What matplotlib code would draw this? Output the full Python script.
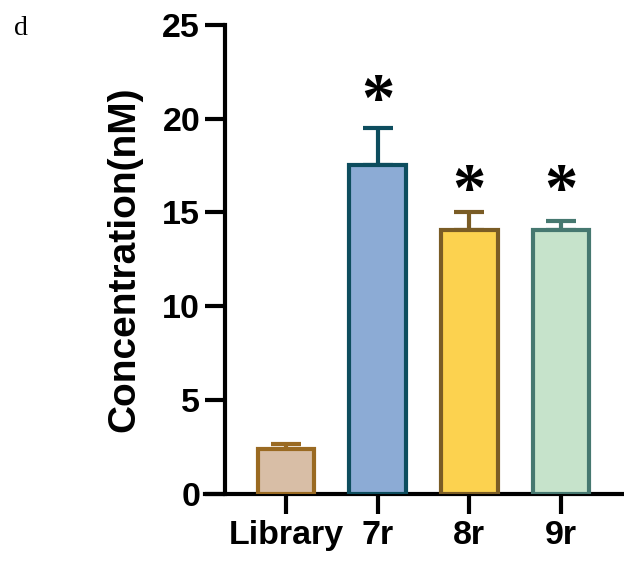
import matplotlib
matplotlib.use("Agg")
import matplotlib.pyplot as plt
import numpy as np

# values
groups = ["Library", "7r", "8r", "9r"]
means = [2.38, 17.52, 14.05, 14.05]
sds = [0.27, 1.97, 0.98, 0.51]
stars = ["", "*", "*", "*"]
star_y = [0, 20.87, 16.07, 16.07]
fills = ["#D8BEA6", "#8CABD5", "#FCD24F", "#C6E3CB"]
edges = ["#9A6A22", "#0D4D5E", "#7A5C25", "#467870"]

plt.rcParams['font.family'] = ['Liberation Sans', 'DejaVu Sans']
plt.rcParams['font.weight'] = 'bold'

fig = plt.figure(figsize=(6.24, 5.63), dpi=100)
ax = fig.add_axes([205 / 624, 1 - 493.5 / 563, 419 / 624, 468.5 / 563])

x = np.arange(len(groups))
lw = 3.0
for i in range(len(groups)):
    ax.errorbar(x[i], means[i], yerr=[[0], [sds[i]]], fmt='none',
                ecolor=edges[i], elinewidth=lw, capsize=10.8, capthick=lw,
                zorder=2)
    ax.bar(x[i], means[i], width=0.62, color=fills[i], edgecolor=edges[i],
           linewidth=lw, zorder=3)
    if stars[i]:
        ax.text(x[i], star_y[i], stars[i], ha='center', va='center',
                fontsize=48, family='Liberation Serif', fontweight='bold')

ax.set_xlim(-0.884, 3.687)
ax.set_ylim(0, 25)
ax.set_yticks([0, 5, 10, 15, 20, 25])
ax.set_xticks(x)
ax.set_xticklabels(groups)

for s in ['top', 'right']:
    ax.spines[s].set_visible(False)
ax.spines['left'].set_position(('axes', 20 / 419))
ax.spines['left'].set_linewidth(lw)
ax.spines['bottom'].set_linewidth(lw)
ax.tick_params(axis='both', length=14.4, width=lw, labelsize=24.5)
ax.tick_params(axis='y', pad=3.5)
ax.tick_params(axis='x', pad=5)

ax.set_ylabel("Concentration(nM)", fontsize=28, fontweight='bold')
ax.yaxis.set_label_coords(-0.1504, 0.5)

fig.text(14 / 624, 1 - 16 / 563, "d", family='Liberation Serif',
         fontsize=20, fontweight='normal', va='top', ha='left')

fig.savefig("out.png", dpi=100)
